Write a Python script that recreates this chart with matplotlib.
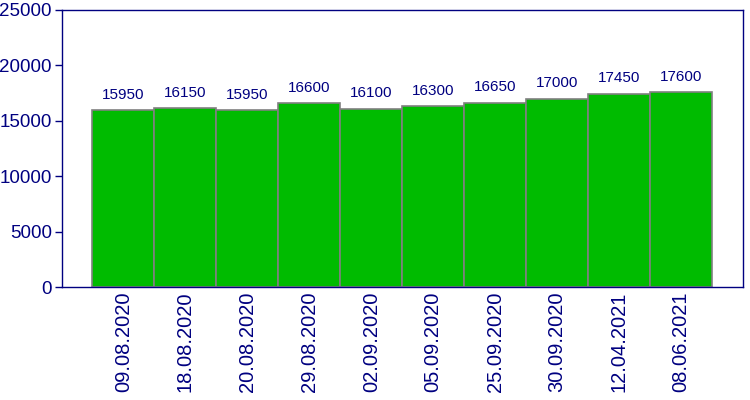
import matplotlib
matplotlib.use("Agg")
import matplotlib.pyplot as plt

dates = ["09.08.2020", "18.08.2020", "20.08.2020", "29.08.2020", "02.09.2020",
         "05.09.2020", "25.09.2020", "30.09.2020", "12.04.2021", "08.06.2021"]
values = [15950, 16150, 15950, 16600, 16100, 16300, 16650, 17000, 17450, 17600]
yticks = [0, 5000, 10000, 15000, 20000, 25000]

navy = "#000080"
plt.rcParams['font.family'] = ['Liberation Sans', 'DejaVu Sans']

fig = plt.figure(figsize=(7.5, 4.0), dpi=100)
ax = fig.add_axes([0.082, 0.2825, 0.9087, 0.6925])
x = list(range(len(values)))
ax.bar(x, values, width=1.0, color="#00BB00", edgecolor="#808080", linewidth=1.2)
for xi, v in zip(x, values):
    ax.annotate(str(v), (xi, v), xytext=(0, 6), textcoords="offset points",
                ha="center", va="bottom", color=navy, fontsize=11)
ax.set_xlim(-1, 10)
ax.set_ylim(0, 25000)
ax.set_yticks(yticks)
ax.set_yticklabels([str(t) for t in yticks])
ax.set_xticks(x)
ax.set_xticklabels(dates, rotation=90)
ax.tick_params(axis='y', colors=navy, labelsize=13.5, length=5, width=1, direction='out', pad=2)
ax.tick_params(axis='x', colors=navy, labelsize=14.5, length=0, pad=3)
for s in ax.spines.values():
    s.set_color(navy)
    s.set_linewidth(1)
fig.savefig("out.png", dpi=100)
